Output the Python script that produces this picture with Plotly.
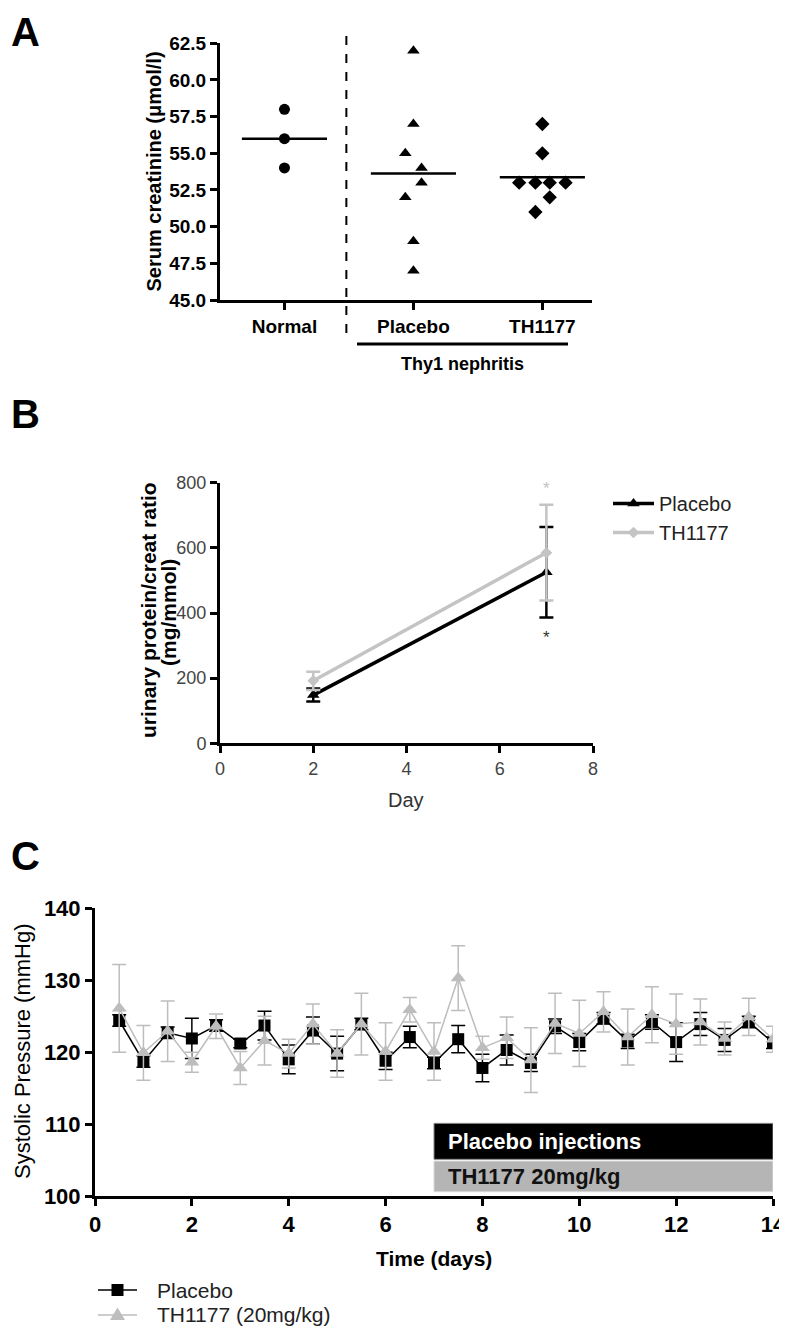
import plotly.graph_objects as go

# ---------------- Panel A data ----------------
a_categories = ["Normal", "Placebo", "TH1177"]
a_normal = [58, 56, 54]
a_placebo = [62, 57, 55, 54, 53, 52, 49, 47]
a_th1177 = [57, 55, 53, 53, 53, 53, 52, 51]
# horizontal scatter offsets (jitter) in category units
a_normal_jit = [0, 0, 0]
a_placebo_jit = [0, 0, -0.063, 0.063, 0.063, -0.063, 0, 0]
a_th1177_jit = [0, 0, -0.18, -0.054, 0.057, 0.18, 0.057, -0.054]
a_yticks = [45.0, 47.5, 50.0, 52.5, 55.0, 57.5, 60.0, 62.5]

# ---------------- Panel B data ----------------
b_days = [2, 7]
b_placebo = [148, 525]
b_placebo_err = [20, 139]
b_th1177 = [192, 585]
b_th1177_err = [28, 147]
b_xticks = [0, 2, 4, 6, 8]
b_yticks = [0, 200, 400, 600, 800]

# ---------------- Panel C data ----------------
c_days = [0.5, 1.0, 1.5, 2.0, 2.5, 3.0, 3.5, 4.0, 4.5, 5.0, 5.5, 6.0, 6.5, 7.0,
          7.5, 8.0, 8.5, 9.0, 9.5, 10.0, 10.5, 11.0, 11.5, 12.0, 12.5, 13.0, 13.5, 14.0]
c_placebo = [124.4, 118.7, 122.7, 121.9, 123.7, 121.2, 123.7, 119.0, 123.0, 119.8,
             123.9, 118.8, 122.1, 118.5, 121.8, 117.8, 120.3, 118.5, 123.6, 121.4,
             124.7, 121.5, 124.2, 121.4, 123.9, 121.7, 124.2, 121.3]
c_placebo_err = [0.8, 0.8, 0.8, 2.8, 0.8, 0.6, 2.0, 2.0, 1.9, 2.4, 0.8, 1.2, 1.5, 0.8,
                 1.9, 1.9, 2.1, 1.2, 1.0, 1.2, 0.8, 1.0, 1.0, 2.7, 1.6, 1.6, 0.8, 0.8]
c_th1177 = [126.1, 119.9, 122.9, 118.6, 123.6, 117.8, 121.6, 119.8, 123.9, 119.8,
            123.9, 120.1, 125.9, 120.1, 130.3, 120.6, 122.0, 118.9, 124.0, 122.6,
            125.6, 122.1, 125.2, 123.9, 124.2, 121.9, 124.9, 121.8]
c_th1177_err = [6.1, 3.8, 4.2, 1.4, 1.7, 2.3, 3.4, 2.0, 2.8, 3.3, 4.3, 4.0, 1.7, 4.0,
                4.5, 1.6, 2.9, 4.5, 4.2, 4.6, 2.8, 3.9, 3.9, 4.2, 3.2, 2.3, 2.6, 1.8]
c_series_names = ["Placebo", "TH1177 (20mg/kg)"]
c_treat_start, c_treat_end = 7, 14
c_xticks = [0, 2, 4, 6, 8, 10, 12, 14]
c_yticks = [100, 110, 120, 130, 140]

# The plot div sits at an 8px page offset (body margin); positions below are
# given in absolute screen pixels and converted to paper coordinates.
OFF = 8
W, H = 787 - OFF, 1334 - 2 * OFF
FONT = "Liberation Sans, Arial, Helvetica, sans-serif"
GRAY = "#bdbdbd"

def px(xp):
    return (xp - OFF) / W

def py(yp):
    return 1 - (yp - OFF) / H

fig = go.Figure()

# ---------- Panel A ----------
markers_a = [("circle", a_normal, a_normal_jit, 0),
             ("triangle-up", a_placebo, a_placebo_jit, 1),
             ("diamond", a_th1177, a_th1177_jit, 2)]
for sym, vals, jit, idx in markers_a:
    fig.add_trace(go.Scatter(
        x=[idx + j for j in jit], y=vals, mode="markers",
        marker=dict(symbol=sym, color="black", size=11, line=dict(width=0)),
        xaxis="x", yaxis="y", showlegend=False, hoverinfo="skip"))
    m = sum(vals) / len(vals)
    fig.add_trace(go.Scatter(
        x=[idx - 0.33, idx + 0.33], y=[m, m], mode="lines",
        line=dict(color="black", width=2.5),
        xaxis="x", yaxis="y", showlegend=False, hoverinfo="skip"))

# ---------- Panel B ----------
fig.add_trace(go.Scatter(
    x=b_days, y=b_placebo, mode="lines+markers", name="Placebo",
    line=dict(color="black", width=3.5),
    marker=dict(symbol="triangle-up", size=11, color="black"),
    error_y=dict(type="data", array=b_placebo_err, color="black", thickness=2.5, width=7),
    xaxis="x2", yaxis="y2", legend="legend2"))
fig.add_trace(go.Scatter(
    x=b_days, y=b_th1177, mode="lines+markers", name="TH1177",
    line=dict(color="#c4c4c4", width=3.5),
    marker=dict(symbol="diamond", size=9, color="#c4c4c4"),
    error_y=dict(type="data", array=b_th1177_err, color="#c4c4c4", thickness=2.5, width=7),
    xaxis="x2", yaxis="y2", legend="legend2"))

# ---------- Panel C ----------
fig.add_trace(go.Scatter(
    x=c_days, y=c_placebo, mode="lines+markers", name=c_series_names[0],
    line=dict(color="black", width=1.5),
    marker=dict(symbol="square", size=12, color="black"),
    error_y=dict(type="data", array=c_placebo_err, color="black", thickness=1.5, width=7),
    xaxis="x3", yaxis="y3", showlegend=False))
fig.add_trace(go.Scatter(
    x=c_days, y=c_th1177, mode="lines+markers", name=c_series_names[1],
    line=dict(color=GRAY, width=1.5),
    marker=dict(symbol="triangle-up", size=13, color=GRAY),
    error_y=dict(type="data", array=c_th1177_err, color=GRAY, thickness=1.5, width=7),
    xaxis="x3", yaxis="y3", showlegend=False))

axis_common = dict(showline=True, linecolor="black", linewidth=3, ticks="outside",
                   tickwidth=3, tickcolor="black", ticklen=7, showgrid=False,
                   zeroline=False, fixedrange=True, automargin=False)

fig.update_layout(
    width=W, height=H, margin=dict(l=0, r=0, t=0, b=0, autoexpand=False),
    plot_bgcolor="white", paper_bgcolor="white",
    font=dict(family=FONT, color="black"),
    # Panel A axes
    xaxis=dict(domain=[px(220), px(592)], anchor="y", range=[-0.5, 2.385],
               tickvals=[0, 1, 2], ticktext=a_categories,
               tickfont=dict(size=19, family=FONT, weight="bold"), **axis_common),
    yaxis=dict(domain=[py(300), py(43.3)], anchor="x", range=[45, 62.5],
               tickvals=a_yticks, tickformat=".1f",
               tickfont=dict(size=19, family=FONT, weight="bold"), **axis_common),
    # Panel B axes
    xaxis2=dict(domain=[px(220), px(593)], anchor="y2", range=[0, 8],
                tickvals=b_xticks, tickfont=dict(size=18, color="#444"), **axis_common),
    yaxis2=dict(domain=[py(743.3), py(482.7)], anchor="x2", range=[0, 800],
                tickvals=b_yticks, tickfont=dict(size=18, color="#444"), **axis_common),
    # Panel C axes
    xaxis3=dict(domain=[px(95), px(773)], anchor="y3", range=[0, 14],
                tickvals=c_xticks, tickfont=dict(size=22, family=FONT, weight="bold"),
                **axis_common),
    yaxis3=dict(domain=[py(1196), py(908.3)], anchor="x3", range=[100, 140],
                tickvals=c_yticks, tickfont=dict(size=22, family=FONT, weight="bold"),
                **axis_common),
    showlegend=True,
    legend2=dict(x=px(608), y=py(484), xanchor="left", yanchor="top",
                 font=dict(size=20, color="#222"), bgcolor="rgba(0,0,0,0)",
                 itemwidth=41),
)

shapes = []
# Panel A dashed separator and bracket line
shapes.append(dict(type="line", xref="x", yref="paper", x0=0.48, x1=0.48,
                   y0=py(333), y1=py(28), line=dict(color="black", width=2, dash="dash")))
shapes.append(dict(type="line", xref="paper", yref="paper", x0=px(357), x1=px(568),
                   y0=py(344), y1=py(344), line=dict(color="black", width=3)))
# Panel C treatment bars
shapes.append(dict(type="rect", xref="x3", yref="y3", x0=c_treat_start, x1=c_treat_end,
                   y0=105.1, y1=110.1, fillcolor="black", line=dict(color="#888", width=1),
                   layer="above"))
shapes.append(dict(type="rect", xref="x3", yref="y3", x0=c_treat_start, x1=c_treat_end,
                   y0=100.6, y1=104.85, fillcolor="#b5b5b5", line=dict(color="#d8d8d8", width=1),
                   layer="above"))
# Panel C legend samples (line + marker glyph)
LEG_Y = [1290, 1315]
for yp, col in zip(LEG_Y, ["black", GRAY]):
    shapes.append(dict(type="line", xref="paper", yref="paper", x0=px(98), x1=px(137),
                       y0=py(yp), y1=py(yp), line=dict(color=col, width=1.5)))
shapes.append(dict(type="rect", xref="paper", yref="paper", xsizemode="pixel",
                   ysizemode="pixel", xanchor=px(117.5), yanchor=py(LEG_Y[0]),
                   x0=-6, x1=6, y0=-6, y1=6, fillcolor="black", line=dict(width=0)))
shapes.append(dict(type="path", xref="paper", yref="paper", xsizemode="pixel",
                   ysizemode="pixel", xanchor=px(117.5), yanchor=py(LEG_Y[1]),
                   path="M -7.5,-5 L 7.5,-5 L 0,7.5 Z", fillcolor=GRAY, line=dict(width=0)))
fig.update_layout(shapes=shapes)

ann = []
def add_text(text, x, y, size, bold=False, color="black", angle=0, xref="paper",
             yref="paper", xanchor="center", yanchor="middle", **kw):
    f = dict(size=size, family=FONT, color=color)
    if bold:
        f["weight"] = "bold"
    ann.append(dict(text=text, x=x, y=y, xref=xref, yref=yref, textangle=angle,
                    xanchor=xanchor, yanchor=yanchor, showarrow=False, font=f, **kw))

# Panel letters
add_text("A", px(9), 1.0, 40, bold=True, xanchor="left", yanchor="top")
for letter, yp in [("B", 414), ("C", 856)]:
    add_text(letter, px(9), py(yp), 40, bold=True, xanchor="left")
# Panel A texts
add_text("Serum creatinine (\u03bcmol/l)", px(153), py(171.5), 20, bold=True, angle=-90)
add_text("Thy1 nephritis", px(462), py(364), 18, bold=True)
# Panel B texts
add_text("urinary protein/creat ratio", px(149), py(610), 21, bold=True, angle=-90)
add_text("(mg/mmol)", px(168), py(613), 21, bold=True, angle=-90)
add_text("Day", px(406), py(800), 20, color="#333")
add_text("*", b_days[1], b_th1177[1] + b_th1177_err[1], 17, color="#c4c4c4",
         xref="x2", yref="y2", yshift=16)
add_text("*", b_days[1], b_placebo[1] - b_placebo_err[1], 17, color="#333",
         xref="x2", yref="y2", yshift=-20)
# Panel C texts
add_text("Systolic Pressure (mmHg)", px(22), py(1052), 22, angle=-90)
add_text("Time (days)", px(434), py(1258), 21, bold=True)
add_text("Placebo injections", c_treat_start + 0.25, 107.6, 22, bold=True, color="white",
         xref="x3", yref="y3", xanchor="left")
add_text("TH1177 20mg/kg", c_treat_start + 0.25, 102.7, 22, bold=True, color="#111",
         xref="x3", yref="y3", xanchor="left")
# Panel C legend labels
add_text(c_series_names[0], px(155), py(LEG_Y[0]), 21, color="#222", xanchor="left")
add_text(c_series_names[1], px(155), py(LEG_Y[1] - 1), 21, color="#222", xanchor="left")
fig.update_layout(annotations=ann)

fig.write_html("out.html")
